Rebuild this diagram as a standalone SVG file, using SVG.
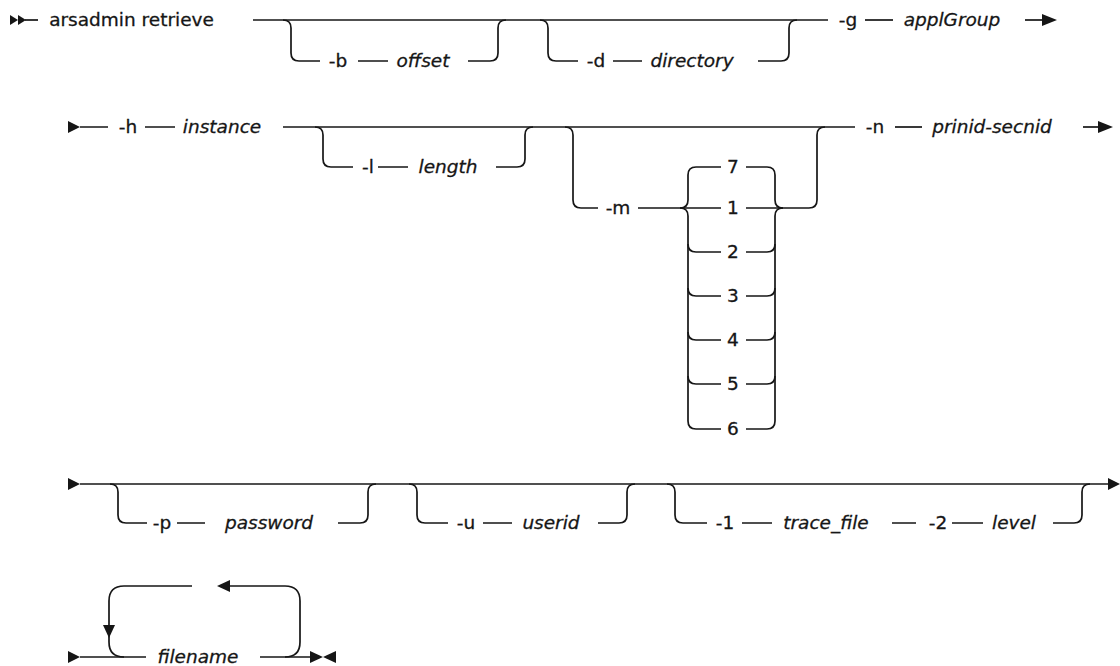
<svg xmlns="http://www.w3.org/2000/svg" width="1120" height="666" viewBox="0 0 1120 666">
<style>
.t{font-family:"DejaVu Sans","Liberation Sans",sans-serif;font-size:18.5px;fill:#161616;stroke:#161616;stroke-width:0.3;text-anchor:middle}
.v{font-style:italic}
.c path{fill:none;stroke:#161616;stroke-width:1.7}
.a{fill:#161616;stroke:none}
</style>
<rect width="1120" height="666" fill="#fff"/>
<g id="connectors" class="c">
<path d="M25,20 H38"/>
<path d="M253,20 H828"/>
<path d="M283,20 Q291,20 291,28 V53 Q291,61 299,61 H320 M358,61 H388 M468,61 H490 Q498,61 498,53 V28 Q498,20 506,20"/>
<path d="M540,20 Q548,20 548,28 V53 Q548,61 556,61 H578 M613,61 H642 M758,61 H781 Q789,61 789,53 V28 Q789,20 797,20"/>
<path d="M865,20 H893"/>
<path d="M1025,20 H1043"/>
<path d="M80,127 H108 M145,127 H175"/>
<path d="M283,127 H855"/>
<path d="M315,127 Q323,127 323,135 V159 Q323,167 331,167 H353 M378,167 H408 M496,167 H517 Q525,167 525,159 V135 Q525,127 533,127"/>
<path d="M565,127 Q573,127 573,135 V200 Q573,208 581,208 H598 M638,208 H721"/>
<path d="M680,208 Q688,208 688,200 V175 Q688,167 696,167 H721"/>
<path d="M680,208 Q688,208 688,216 V421 Q688,429 696,429 H721"/>
<path d="M688,244 Q688,252 696,252 H721 M688,288 Q688,296 696,296 H721 M688,332 Q688,340 696,340 H721 M688,376 Q688,384 696,384 H721"/>
<path d="M746,167 H767 Q775,167 775,175 V200 Q775,208 783,208"/>
<path d="M746,429 H767 Q775,429 775,421 V216 Q775,208 783,208"/>
<path d="M746,208 H809 Q817,208 817,200 V135 Q817,127 825,127"/>
<path d="M746,252 H767 Q775,252 775,244 M746,296 H767 Q775,296 775,288 M746,340 H767 Q775,340 775,332 M746,384 H767 Q775,384 775,376"/>
<path d="M895,127 H922"/>
<path d="M1083,127 H1099"/>
<path d="M80,484 H1110"/>
<path d="M110,484 Q118,484 118,492 V515 Q118,523 126,523 H147 M177,523 H205 M338,523 H360 Q368,523 368,515 V492 Q368,484 376,484"/>
<path d="M409,484 Q417,484 417,492 V515 Q417,523 425,523 H448 M483,523 H512 M598,523 H619 Q627,523 627,515 V492 Q627,484 635,484"/>
<path d="M667,484 Q675,484 675,492 V515 Q675,523 683,523 H707 M742,523 H772 M892,523 H916 M952,523 H983 M1053,523 H1074 Q1082,523 1082,515 V492 Q1082,484 1090,484"/>
<path d="M80,657 H146"/>
<path d="M192,586 H124 Q109,586 109,601 V642 Q109,657 124,657"/>
<path d="M230,586 H285 Q300,586 300,601 V642 Q300,657 285,657"/>
<path d="M260,657 H312"/>
<polygon class="a" points="10,15 18,20 10,25"/>
<polygon class="a" points="18,15 26,20 18,25"/>
<polygon class="a" points="1042,14 1057,20 1042,26"/>
<polygon class="a" points="68,121 80,127 68,133"/>
<polygon class="a" points="1098,121 1113,127 1098,133"/>
<polygon class="a" points="68,478 80,484 68,490"/>
<polygon class="a" points="1108,478 1120,484 1108,490"/>
<polygon class="a" points="68,651 80,657 68,663"/>
<polygon class="a" points="103,625 115,625 109,638"/>
<polygon class="a" points="217,586 230,580 230,592"/>
<polygon class="a" points="310,651 323,657 310,663"/>
<polygon class="a" points="336,651 323,657 336,663"/>
</g>
<g id="cmd"><text class="t" x="131.5" y="26">arsadmin retrieve</text></g>
<g id="opt-b"><text class="t" x="338" y="67">-b</text></g>
<g id="var-offset"><text class="t v" x="423" y="67">offset</text></g>
<g id="opt-d"><text class="t" x="596" y="67">-d</text></g>
<g id="var-directory"><text class="t v" x="692" y="67">directory</text></g>
<g id="opt-g"><text class="t" x="848" y="26">-g</text></g>
<g id="var-applGroup"><text class="t v" x="952" y="26">applGroup</text></g>
<g id="opt-h"><text class="t" x="128" y="133">-h</text></g>
<g id="var-instance"><text class="t v" x="222" y="133">instance</text></g>
<g id="opt-l"><text class="t" x="368" y="173">-l</text></g>
<g id="var-length"><text class="t v" x="448" y="173">length</text></g>
<g id="opt-m"><text class="t" x="618" y="214">-m</text></g>
<g id="m7"><text class="t" x="733" y="173">7</text></g>
<g id="m1"><text class="t" x="733" y="214">1</text></g>
<g id="m2"><text class="t" x="733" y="258">2</text></g>
<g id="m3"><text class="t" x="733" y="302">3</text></g>
<g id="m4"><text class="t" x="733" y="346">4</text></g>
<g id="m5"><text class="t" x="733" y="390">5</text></g>
<g id="m6"><text class="t" x="733" y="435">6</text></g>
<g id="opt-n"><text class="t" x="875" y="133">-n</text></g>
<g id="var-prinid"><text class="t v" x="992" y="133">prinid-secnid</text></g>
<g id="opt-p"><text class="t" x="162" y="529">-p</text></g>
<g id="var-password"><text class="t v" x="269" y="529">password</text></g>
<g id="opt-u"><text class="t" x="466" y="529">-u</text></g>
<g id="var-userid"><text class="t v" x="551" y="529">userid</text></g>
<g id="opt-1"><text class="t" x="725" y="529">-1</text></g>
<g id="var-trace"><text class="t v" x="826" y="529">trace_file</text></g>
<g id="opt-2"><text class="t" x="938" y="529">-2</text></g>
<g id="var-level"><text class="t v" x="1014" y="529">level</text></g>
<g id="var-filename"><text class="t v" x="198" y="663">filename</text></g>
</svg>
